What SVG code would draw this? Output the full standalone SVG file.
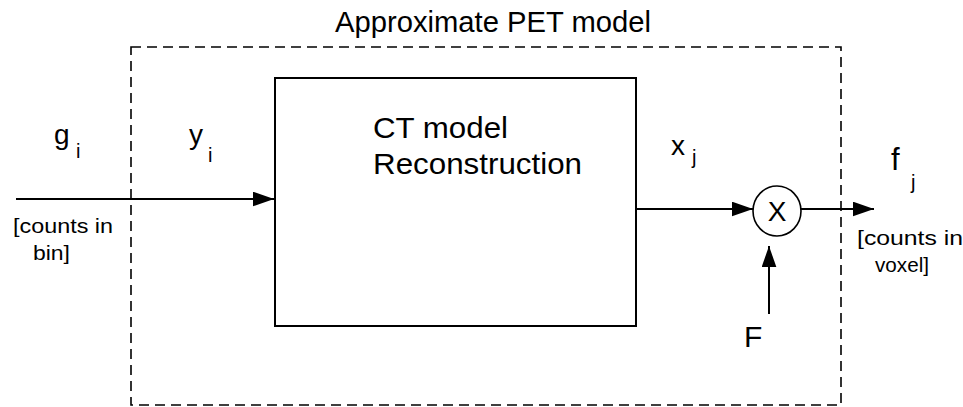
<svg xmlns="http://www.w3.org/2000/svg" width="963" height="407" viewBox="0 0 963 407">
<defs>
<style>
text{font-family:"Liberation Sans",Arial,sans-serif;fill:#000}
.big{font-size:29px}
.sym{font-size:28px}
.sub{font-size:20px}
.small{font-size:21px}
.edge{stroke:#000;stroke-width:2;fill:none}
</style>
<marker id="ah" viewBox="0 0 20 14" refX="20" refY="7" markerWidth="21" markerHeight="15" markerUnits="userSpaceOnUse" orient="auto">
<path d="M0,0 L20,7 L0,14 Z" fill="#000"/>
</marker>
</defs>
<rect width="963" height="407" fill="#fff"/>
<g id="pet-model">
<rect x="131" y="47" width="710" height="358" fill="none" stroke="#000" stroke-width="1.6" stroke-dasharray="10,6"/>
<text class="big" x="335" y="32" textLength="316" lengthAdjust="spacingAndGlyphs">Approximate PET model</text>
</g>
<g id="ct-box">
<rect x="275" y="78" width="361" height="248" fill="#fff" stroke="#000" stroke-width="2"/>
<text class="big" x="373" y="138" textLength="135" lengthAdjust="spacingAndGlyphs">CT model</text>
<text class="big" x="373" y="174" textLength="209" lengthAdjust="spacingAndGlyphs">Reconstruction</text>
</g>
<g id="multiplier">
<ellipse cx="777" cy="211" rx="24" ry="25" fill="#fff" stroke="#000" stroke-width="1.6"/>
<text class="sym" x="777" y="221" text-anchor="middle">X</text>
</g>
<g id="labels">
<text class="sym" x="54" y="144">g</text><text class="sub" x="76" y="158">i</text>
<text class="sym" x="189" y="144">y</text><text class="sub" x="208" y="162">i</text>
<text class="sym" x="671" y="155">x</text><text class="sub" x="692" y="164">j</text>
<text class="sym" x="891" y="170" style="font-size:31px">f</text><text class="sub" x="911" y="189">j</text>
<text class="sym" x="744" y="347" style="font-size:30px">F</text>
<text class="small" x="13" y="233" textLength="100" lengthAdjust="spacingAndGlyphs">[counts in</text>
<text class="small" x="33" y="260" textLength="37" lengthAdjust="spacingAndGlyphs">bin]</text>
<text class="small" x="857" y="245" textLength="106" lengthAdjust="spacingAndGlyphs">[counts in</text>
<text class="small" x="875" y="272" textLength="54" lengthAdjust="spacingAndGlyphs">voxel]</text>
</g>
<g id="connectors">
<line class="edge" x1="16" y1="199" x2="274" y2="199" marker-end="url(#ah)"/>
<line class="edge" x1="636" y1="209" x2="753" y2="209" marker-end="url(#ah)"/>
<line class="edge" x1="801" y1="209" x2="874" y2="209" marker-end="url(#ah)"/>
<line class="edge" x1="769" y1="314" x2="769" y2="246" marker-end="url(#ah)"/>
</g>
</svg>
